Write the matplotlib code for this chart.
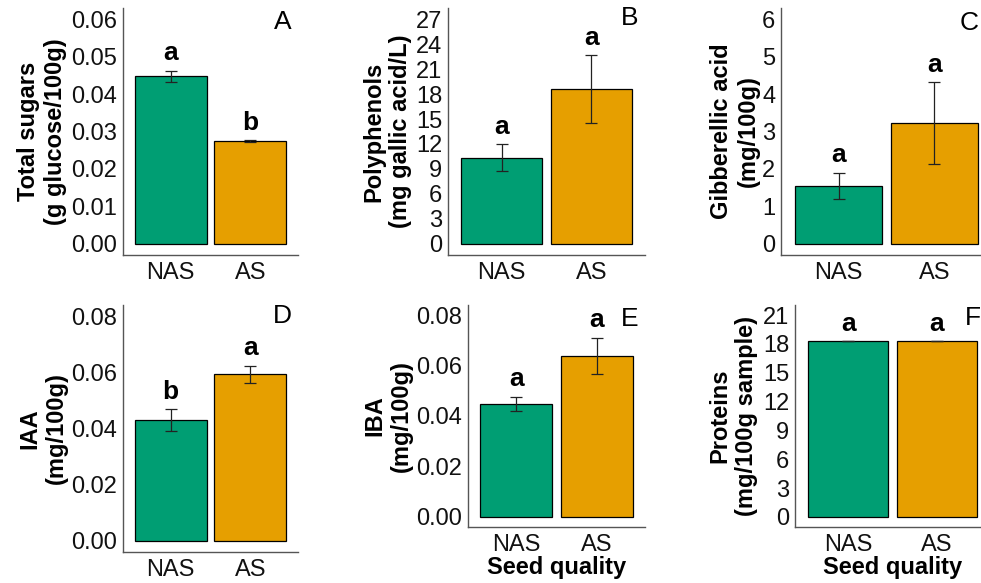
import matplotlib.pyplot as plt
from matplotlib.ticker import FormatStrFormatter

plt.rcParams['font.family'] = ['Liberation Sans', 'DejaVu Sans']

# categories and colours
groups = ["NAS", "AS"]
colors = ["#009E73", "#E69F00"]

# values (mean, sd, letters)
sugars = [0.0447, 0.0274]
sugars_sd = [0.0015, 0.0003]
sugars_let = ["a", "b"]

polyphenols = [10.35, 18.6]
polyphenols_sd = [1.6, 4.05]
polyphenols_let = ["a", "a"]

gibberellic = [1.55, 3.22]
gibberellic_sd = [0.35, 1.09]
gibberellic_let = ["a", "a"]

iaa = [0.0429, 0.0593]
iaa_sd = [0.0039, 0.0030]
iaa_let = ["b", "a"]

iba = [0.0448, 0.0638]
iba_sd = [0.0029, 0.0073]
iba_let = ["a", "a"]

proteins = [18.29, 18.29]
proteins_sd = [0.0, 0.0]
proteins_let = ["a", "a"]

W, H = 981, 583
fig = plt.figure(figsize=(W / 100, H / 100), dpi=100)


def make_axes(left, right, top, bottom):
    # pixel box -> figure fraction
    return fig.add_axes([left / W, 1 - bottom / H, (right - left) / W, (bottom - top) / H])


def panel(box, vals, sds, lets, ylabel, ylim, ticks, fmt, tag, tagpos, labx, xlabel=None):
    ax = make_axes(*box)
    x = [1, 2]
    ax.bar(x, vals, width=0.9, color=colors, edgecolor="black", linewidth=0.9, zorder=2)
    ax.errorbar(x, vals, yerr=sds, fmt="none", ecolor="#222222", elinewidth=0.9,
                capsize=4.5, capthick=0.9, zorder=3)
    for xi, v, s, l in zip(x, vals, sds, lets):
        ax.annotate(l, (xi, v + s), xytext=(0, 7.5), textcoords="offset points",
                    ha="center", va="baseline", fontsize=19, fontweight="bold")
    ax.set_xlim(0.4, 2.6)
    ax.set_ylim(*ylim)
    ax.set_yticks(ticks)
    ax.yaxis.set_major_formatter(FormatStrFormatter(fmt))
    ax.set_xticks(x)
    ax.set_xticklabels(groups)
    ax.tick_params(length=0, labelsize=17, colors="#111111")
    ax.tick_params(axis="y", pad=4)
    ax.tick_params(axis="x", pad=5)
    for s in ["top", "right"]:
        ax.spines[s].set_visible(False)
    for s in ["left", "bottom"]:
        ax.spines[s].set_color("#555555")
        ax.spines[s].set_linewidth(1.0)
    ax.set_ylabel(ylabel, fontsize=17, fontweight="bold")
    ax.yaxis.set_label_coords(labx, 0.5)
    if xlabel:
        ax.set_xlabel(xlabel, fontsize=17, fontweight="bold", labelpad=0)
    ax.text(tagpos[0], tagpos[1], tag, transform=ax.transAxes, fontsize=19,
            ha="center", va="center")
    return ax


panel((123, 298, 8, 255), sugars, sugars_sd, sugars_let,
      "Total sugars\n(g glucose/100g)", (-0.003, 0.063),
      [0, 0.01, 0.02, 0.03, 0.04, 0.05, 0.06], "%.2f", "A", (0.914, 0.945), -0.32)

panel((448, 645, 8, 255), polyphenols, polyphenols_sd, polyphenols_let,
      "Polyphenols\n(mg gallic acid/L)", (-1.35, 28.35),
      [0, 3, 6, 9, 12, 15, 18, 21, 24, 27], "%d", "B", (0.924, 0.96), -0.184)

panel((781, 992, 8, 255), gibberellic, gibberellic_sd, gibberellic_let,
      "Gibberellic acid\n(mg/100g)", (-0.3, 6.3),
      [0, 1, 2, 3, 4, 5, 6], "%d", "C", (0.89, 0.94), -0.10)

panel((123, 298, 305, 552), iaa, iaa_sd, iaa_let,
      "IAA\n(mg/100g)", (-0.004, 0.084),
      [0, 0.02, 0.04, 0.06, 0.08], "%.2f", "D", (0.909, 0.956), -0.314)

panel((468, 645, 305, 527), iba, iba_sd, iba_let,
      "IBA\n(mg/100g)", (-0.004, 0.084),
      [0, 0.02, 0.04, 0.06, 0.08], "%.2f", "E", (0.914, 0.937), -0.311,
      xlabel="Seed quality")

panel((795, 990, 305, 527), proteins, proteins_sd, proteins_let,
      "Proteins\n(mg/100g sample)", (-1.05, 22.05),
      [0, 3, 6, 9, 12, 15, 18, 21], "%d", "F", (0.91, 0.94), -0.19,
      xlabel="Seed quality")

fig.savefig("out.png", dpi=100)
